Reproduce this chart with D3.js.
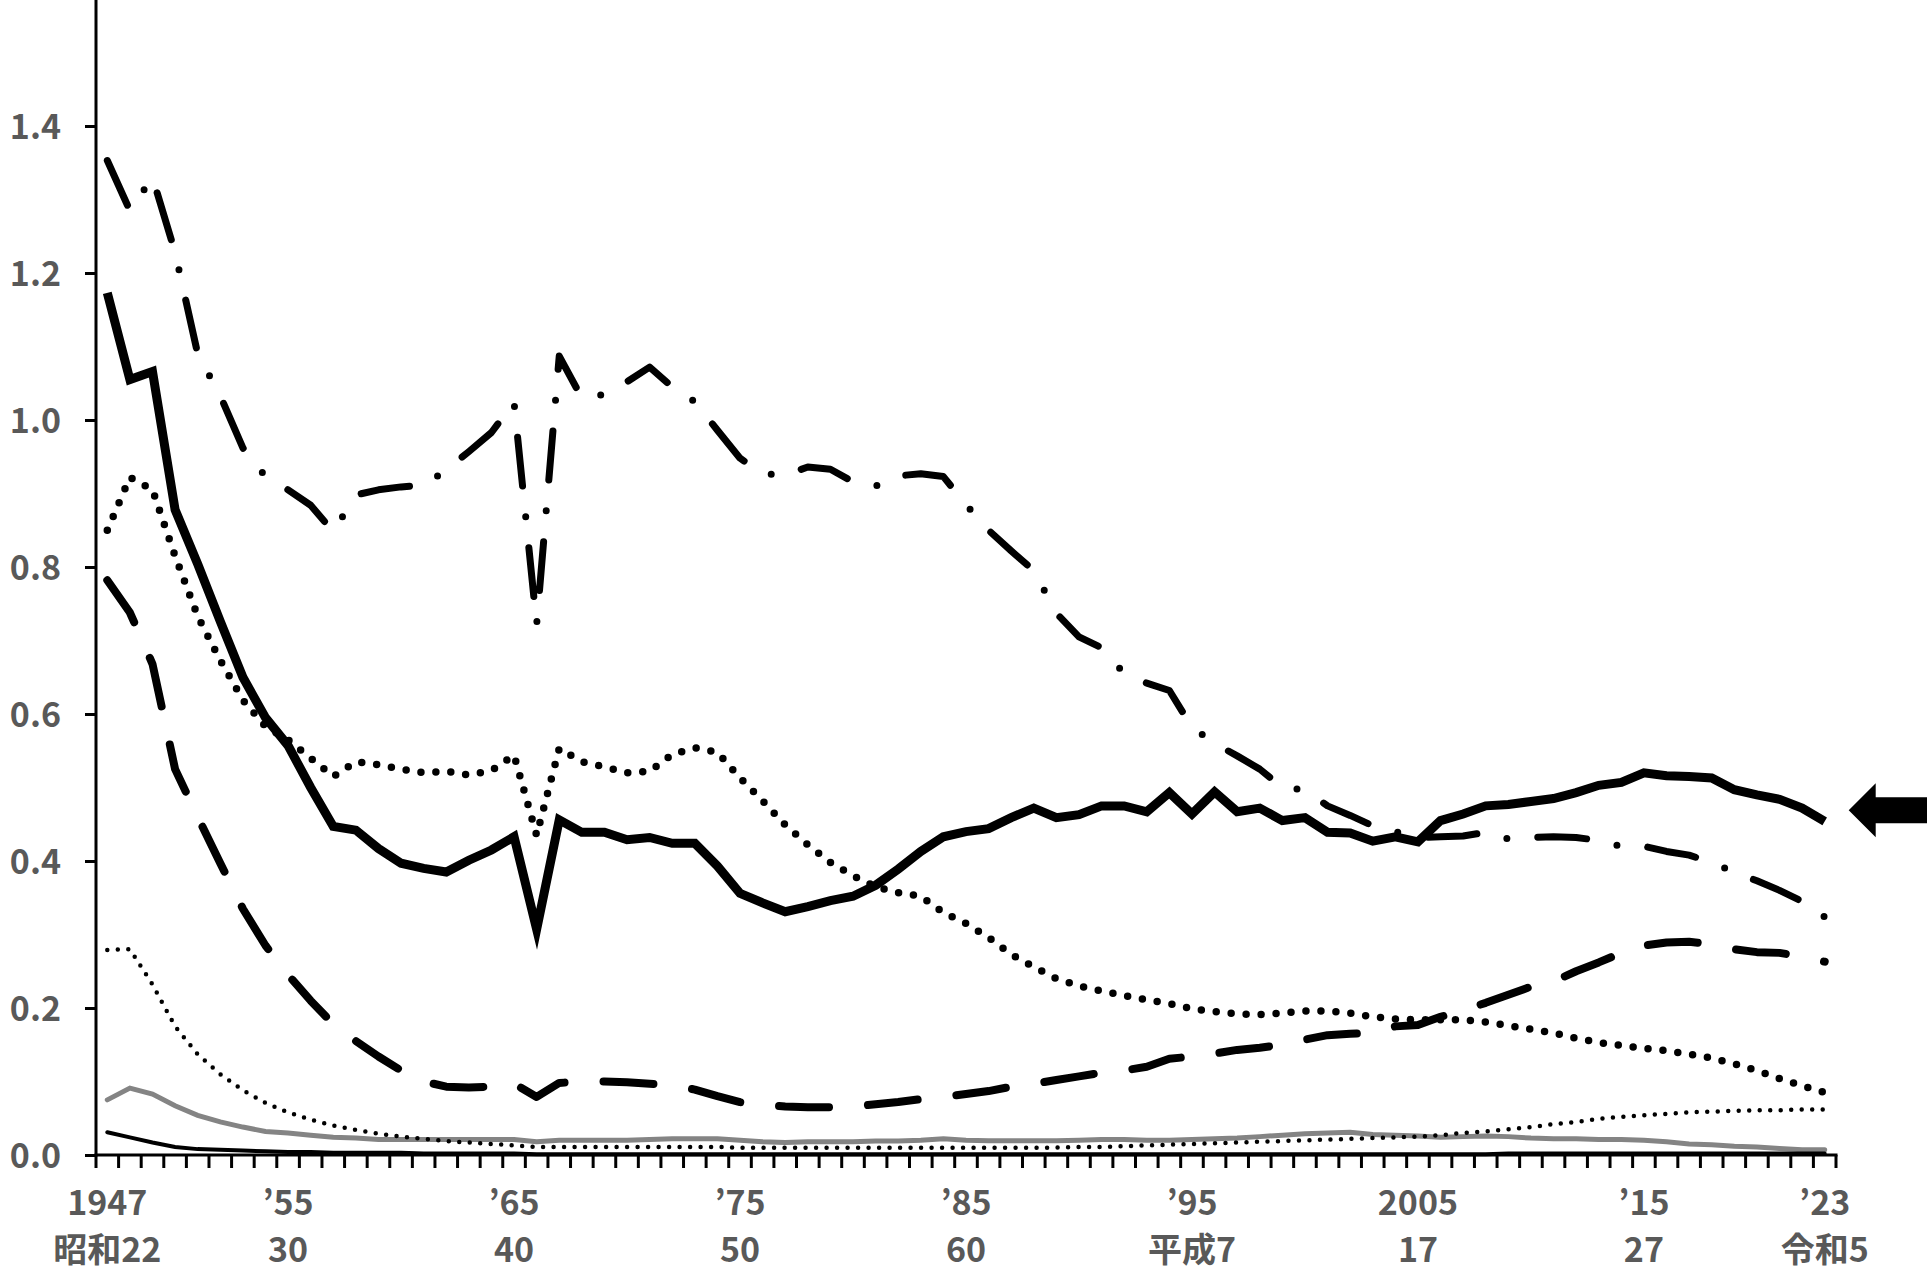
<!DOCTYPE html>
<html>
<head>
<meta charset="utf-8">
<script src="https://cdn.jsdelivr.net/npm/d3@7"></script>
<style>
  html, body { margin: 0; padding: 0; background: #fff; overflow: hidden; }
  svg { display: block; }
  .lbl { font-family: "Noto Sans CJK JP", "Liberation Sans", sans-serif; font-size: 34px; font-weight: 700; fill: #595959; }
</style>
</head>
<body>
<svg id="chart" width="1927" height="1281"></svg>
<script>
// years on the x axis
const years = d3.range(1947, 2024);

// thick solid (arrowed series)
const solidThick = [1.173,1.055,1.066,0.878,0.804,0.726,0.65,0.595,0.557,0.50,
  0.447,0.442,0.417,0.397,0.39,0.385,0.401,0.415,0.433,0.307,
  0.456,0.439,0.439,0.429,0.432,0.424,0.424,0.393,0.356,0.343,
  0.331,0.338,0.346,0.352,0.367,0.389,0.413,0.433,0.44,0.444,
  0.459,0.472,0.459,0.463,0.475,0.475,0.467,0.493,0.464,0.494,
  0.467,0.472,0.455,0.459,0.439,0.438,0.427,0.433,0.426,0.455,
  0.464,0.475,0.477,0.481,0.485,0.493,0.503,0.507,0.52,0.516,
  0.515,0.513,0.497,0.49,0.484,0.472,0.454];

// dash-dot
const dashDot = [1.353,1.285,1.33,1.228,1.09,1.033,0.962,0.923,0.905,0.884,
  0.848,0.898,0.905,0.909,0.911,0.932,0.957,0.983,1.024,0.722,
  1.087,1.03,1.035,1.052,1.072,1.045,1.025,0.986,0.948,0.927,
  0.925,0.936,0.933,0.916,0.91,0.924,0.927,0.923,0.885,0.85,
  0.822,0.795,0.737,0.705,0.69,0.655,0.642,0.632,0.582,0.56,
  0.543,0.525,0.5,0.497,0.475,0.462,0.448,0.44,0.432,0.433,
  0.434,0.439,0.43,0.432,0.433,0.432,0.428,0.42,0.42,0.413,
  0.408,0.398,0.385,0.373,0.36,0.345,0.324];

// thick dotted
const dotThick = [0.85,0.922,0.905,0.815,0.733,0.673,0.619,0.583,0.565,0.54,
  0.515,0.535,0.531,0.525,0.52,0.522,0.517,0.523,0.544,0.435,
  0.553,0.535,0.528,0.52,0.522,0.545,0.554,0.548,0.513,0.482,
  0.449,0.422,0.398,0.38,0.365,0.357,0.352,0.33,0.315,0.296,
  0.273,0.256,0.24,0.23,0.223,0.217,0.211,0.206,0.199,0.195,
  0.192,0.191,0.193,0.196,0.196,0.193,0.188,0.185,0.184,0.184,
  0.184,0.181,0.176,0.171,0.166,0.159,0.153,0.149,0.145,0.142,
  0.137,0.132,0.124,0.115,0.104,0.094,0.085];

// long dash
const dashLong = [0.782,0.738,0.668,0.525,0.46,0.397,0.335,0.285,0.245,0.21,
  0.178,0.155,0.134,0.115,0.1,0.093,0.092,0.093,0.097,0.079,
  0.098,0.1,0.1,0.099,0.097,0.095,0.089,0.08,0.072,0.068,
  0.066,0.065,0.065,0.066,0.069,0.072,0.076,0.079,0.083,0.087,
  0.093,0.097,0.102,0.107,0.112,0.115,0.12,0.131,0.134,0.138,
  0.143,0.146,0.15,0.157,0.163,0.165,0.166,0.175,0.177,0.188,
  0.197,0.207,0.218,0.229,0.236,0.25,0.262,0.275,0.285,0.289,
  0.29,0.287,0.28,0.276,0.275,0.27,0.263];

// thin dotted
const dotThin = [0.279,0.28,0.232,0.175,0.137,0.11,0.088,0.071,0.058,0.048,
  0.04,0.034,0.029,0.025,0.022,0.019,0.017,0.015,0.013,0.011,
  0.011,0.011,0.011,0.011,0.011,0.011,0.011,0.011,0.01,0.01,
  0.01,0.01,0.01,0.01,0.01,0.01,0.01,0.01,0.01,0.01,
  0.01,0.01,0.01,0.011,0.011,0.012,0.013,0.014,0.015,0.016,
  0.017,0.018,0.019,0.02,0.021,0.022,0.023,0.024,0.025,0.027,
  0.03,0.032,0.035,0.038,0.042,0.045,0.049,0.052,0.054,0.056,
  0.058,0.059,0.06,0.061,0.061,0.062,0.062];

// grey solid
const greySolid = [0.075,0.091,0.083,0.067,0.054,0.045,0.038,0.032,0.03,0.027,
  0.024,0.023,0.021,0.021,0.021,0.021,0.021,0.021,0.021,0.018,
  0.02,0.02,0.02,0.02,0.021,0.022,0.022,0.022,0.02,0.018,
  0.017,0.018,0.018,0.018,0.019,0.019,0.02,0.022,0.02,0.0195,
  0.0195,0.0195,0.0195,0.02,0.021,0.021,0.02,0.02,0.021,0.022,
  0.023,0.025,0.027,0.029,0.03,0.031,0.028,0.027,0.026,0.024,
  0.025,0.026,0.025,0.023,0.022,0.022,0.021,0.021,0.02,0.018,
  0.015,0.014,0.012,0.011,0.009,0.007,0.007];

// thin solid
const solidThin = [0.031,0.024,0.017,0.011,0.008,0.007,0.006,0.005,0.004,0.004,
  0.003,0.003,0.003,0.003,0.002,0.002,0.002,0.002,0.002,0.001,
  0.001,0.001,0.001,0.001,0.001,0.001,0.001,0.001,0.001,0.001,
  0.001,0.001,0.001,0.001,0.001,0.001,0.001,0.001,0.001,0.001,
  0.001,0.001,0.001,0.001,0.001,0.001,0.001,0.001,0.001,0.001,
  0.001,0.001,0.001,0.001,0.001,0.001,0.001,0.001,0.001,0.001,
  0.001,0.001,0.002,0.002,0.002,0.002,0.002,0.002,0.002,0.002,
  0.002,0.002,0.002,0.002,0.002,0.002,0.002];

const yTicks = [0, 0.2, 0.4, 0.6, 0.8, 1.0, 1.2, 1.4];
const labelYears = [1947, 1955, 1965, 1975, 1985, 1995, 2005, 2015, 2023];
const yearText = ["1947", "’55", "’65", "’75", "’85", "’95", "2005", "’15", "’23"];
const eraText = ["昭和22", "30", "40", "50", "60", "平成7", "17", "27", "令和5"];

const svg = d3.select("#chart");

const x = d3.scaleBand().domain(years).range([96, 1836]).padding(0);
const y = d3.scaleLinear().domain([0, 1.6]).range([1155, 1155 - 1.6 * 735]);
const cx = d => x(d) + x.bandwidth() / 2;

// series drawing
const line = vals => d3.line()
  .x((d, i) => cx(years[i]))
  .y(d => y(d))(vals);

const series = [
  { v: greySolid, stroke: "#848484", w: 5, dash: null, cap: "round" },
  { v: solidThin, stroke: "#000", w: 4, dash: null, cap: "round" },
  { v: dotThin, stroke: "#000", w: 4.5, dash: "0 10.5", cap: "round" },
  { v: dashLong, stroke: "#000", w: 8, dash: "50 39", cap: "round" },
  { v: dotThick, stroke: "#000", w: 7.5, dash: "0 15", cap: "round" },
  { v: dashDot, stroke: "#000", w: 7, dash: "49 31 0 31", cap: "round" },
  { v: solidThick, stroke: "#000", w: 9, dash: null, cap: "butt" }
];

svg.append("g").selectAll("path")
  .data(series)
  .join("path")
  .attr("d", s => line(s.v))
  .attr("fill", "none")
  .attr("stroke", s => s.stroke)
  .attr("stroke-width", s => s.w)
  .attr("stroke-dasharray", s => s.dash)
  .attr("stroke-linecap", s => s.cap)
  .attr("stroke-linejoin", s => s.dash ? "round" : "miter")
  .attr("stroke-miterlimit", 6);

// y axis
const yAxis = svg.append("g")
  .attr("transform", "translate(96,0)")
  .call(d3.axisLeft(y).tickValues(yTicks).tickSize(11).tickPadding(24)
    .tickFormat(d3.format(".1f")));
yAxis.select(".domain").remove();
yAxis.selectAll(".tick line").attr("stroke", "#000").attr("stroke-width", 3);
yAxis.selectAll(".tick text").attr("class", "lbl").attr("dy", "0.36em");
svg.append("line")
  .attr("x1", 96).attr("x2", 96)
  .attr("y1", y(1.6)).attr("y2", y(0) + 1.5)
  .attr("stroke", "#000").attr("stroke-width", 3);

// x axis: baseline with ticks at category boundaries
const xr = x.range();
svg.append("line")
  .attr("x1", xr[0] - 1.5).attr("x2", xr[1] + 1.5)
  .attr("y1", y(0)).attr("y2", y(0))
  .attr("stroke", "#000").attr("stroke-width", 3);
const bounds = years.map(d => x(d)).concat([xr[1]]);
svg.append("g").selectAll("line")
  .data(bounds)
  .join("line")
  .attr("x1", d => d).attr("x2", d => d)
  .attr("y1", y(0)).attr("y2", y(0) + 13)
  .attr("stroke", "#000").attr("stroke-width", 3);

const xl = svg.append("g");
xl.selectAll("text.yr")
  .data(labelYears)
  .join("text")
  .attr("class", "lbl yr")
  .attr("x", d => cx(d))
  .attr("y", 1215)
  .attr("text-anchor", "middle")
  .text((d, i) => yearText[i]);
xl.selectAll("text.era")
  .data(labelYears)
  .join("text")
  .attr("class", "lbl era")
  .attr("x", d => cx(d))
  .attr("y", 1262)
  .attr("text-anchor", "middle")
  .text((d, i) => eraText[i]);

// arrow pointing at the thick solid line
const ax = cx(2023) + 24, ay = y(0.469);
svg.append("path")
  .attr("d", `M${ax},${ay} L${ax + 27},${ay - 27} L${ax + 27},${ay - 13} L1927,${ay - 13} L1927,${ay + 13} L${ax + 27},${ay + 13} L${ax + 27},${ay + 27} Z`)
  .attr("fill", "#000");
</script>
</body>
</html>
